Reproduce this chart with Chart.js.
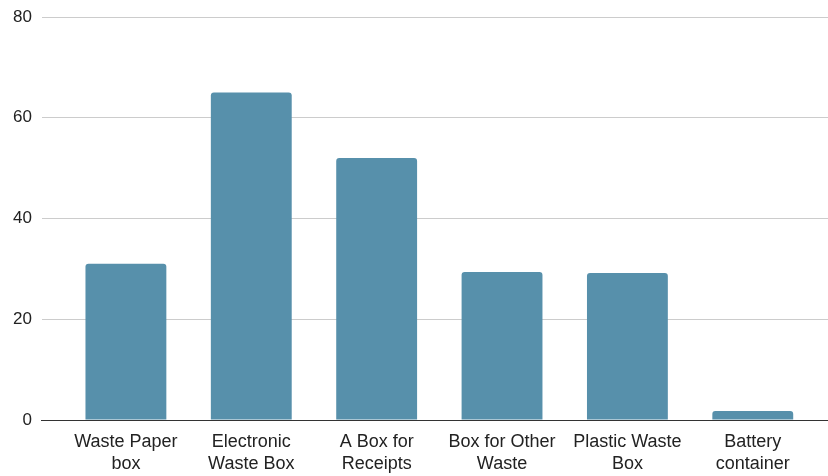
<!DOCTYPE html>
<html>
<head>
<meta charset="utf-8">
<script src="https://cdn.jsdelivr.net/npm/chart.js@4/dist/chart.umd.min.js"></script>
<style>
    html, body { margin: 0; padding: 0; background: #fff; }
    #wrap { width: 828px; height: 476px; position: relative; }
</style>
</head>
<body>
<div id="wrap"><canvas id="binChart"></canvas></div>
<script>
const categories = [
    ['Waste Paper', 'box'],
    ['Electronic', 'Waste Box'],
    ['A Box for', 'Receipts'],
    ['Box for Other', 'Waste'],
    ['Plastic Waste', 'Box'],
    ['Battery', 'container']
];
const counts = [31, 65, 52, 29.4, 29.2, 1.8];
const yTicks = [0, 20, 40, 60, 80];

const barColour = '#5790ab';

new Chart(document.getElementById('binChart').getContext('2d'), {
    type: 'bar',
    data: {
        datasets: [{
            data: counts.map((v, i) => ({ x: i, y: v })),
            backgroundColor: barColour,
            borderWidth: 0,
            borderRadius: { topLeft: 3, topRight: 3 },
            borderSkipped: 'bottom',
            categoryPercentage: 1,
            barPercentage: 0.645
        }]
    },
    options: {
        responsive: true,
        maintainAspectRatio: false,
        animation: false,
        layout: {
            padding: { top: 0, left: 3, right: 0, bottom: 0 }
        },
        scales: {
            x: {
                type: 'linear',
                offset: false,
                min: -0.67,
                max: 5.6,
                afterBuildTicks: axis => {
                    axis.ticks = axis.ticks.filter(t => Number.isInteger(t.value));
                },
                afterFit: axis => {
                    axis.height = 56;
                },
                grid: { display: false, drawTicks: false },
                border: { display: true, color: '#333333', width: 1 },
                ticks: {
                    stepSize: 1,
                    autoSkip: false,
                    maxRotation: 0,
                    padding: 12,
                    color: '#222222',
                    font: { family: 'Liberation Sans, Arial, sans-serif', size: 18, lineHeight: 1.17 },
                    callback: v => categories[v]
                }
            },
            y: {
                min: yTicks[0],
                max: yTicks[yTicks.length - 1],
                afterBuildTicks: axis => {
                    axis.ticks = yTicks.map(v => ({ value: v }));
                },
                afterFit: axis => {
                    axis.paddingTop = 17;
                },
                border: { display: false },
                grid: {
                    drawTicks: false,
                    color: ctx => ctx.tick && ctx.tick.value === 0 ? '#333333' : '#cccccc',
                    lineWidth: 1
                },
                ticks: {
                    padding: 10,
                    color: '#222222',
                    font: { family: 'Liberation Sans, Arial, sans-serif', size: 17 }
                }
            }
        },
        plugins: {
            legend: { display: false },
            title: { display: false },
            tooltip: { enabled: false }
        }
    }
});
</script>
</body>
</html>
